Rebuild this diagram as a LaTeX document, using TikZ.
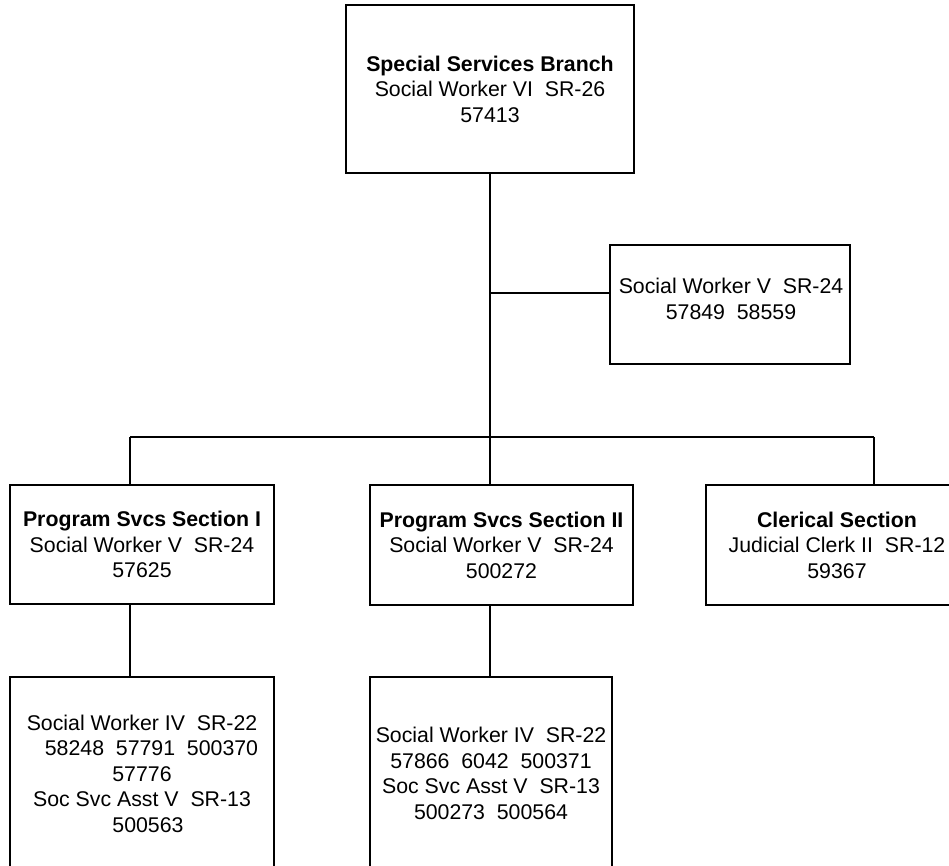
\documentclass[tikz,border=0pt]{standalone}
\usepackage{fontspec}
\setmainfont{Liberation Sans}
\begin{document}
\begin{tikzpicture}[x=1pt,y=-1pt,
  box/.style={draw, line width=1.8pt, inner sep=0pt, outer sep=0pt, align=center,
    font=\fontsize{21.3}{25.5}\selectfont},
  txt/.style={inner sep=0pt, outer sep=0pt, align=center,
    font=\fontsize{21.3}{25.5}\selectfont},
  conn/.style={line width=1.8pt}]
\useasboundingbox (0,0) rectangle (949,866);
\fill[white] (0,0) rectangle (949,866);
\clip (0,0) rectangle (949,866);
% boxes
\node[box, minimum width=288pt, minimum height=168pt] (top) at (490,89)
  {\textbf{Special Services Branch}\\Social Worker VI~~SR-26\\57413};
\node[box, minimum width=240pt, minimum height=119pt] (rbox) at (730,304.5) {};
\node[txt] (rboxtext) at (731,299) {Social Worker V~~SR-24\\57849~~58559};
\node[box, minimum width=264pt, minimum height=119pt] (p1) at (142,544.5)
  {\textbf{Program Svcs Section I}\\Social Worker V~~SR-24\\57625};
\node[box, minimum width=263pt, minimum height=120pt] (p2) at (501.5,545)
  {\textbf{Program Svcs Section II}\\Social Worker V~~SR-24\\500272};
\node[box, minimum width=262pt, minimum height=120pt] (p3) at (837,545)
  {\textbf{Clerical Section}\\Judicial Clerk II~~SR-12\\59367};
\node[box, minimum width=264pt, minimum height=193pt] (s1) at (142,773.5)
  {Social Worker IV~~SR-22\\\hspace*{19pt}58248~~57791~~500370\\57776\\Soc Svc Asst V~~SR-13\\\hspace*{12pt}500563};
\node[box, minimum width=242pt, minimum height=193pt] (s2) at (491,773.5)
  {Social Worker IV~~SR-22\\57866~~6042~~500371\\Soc Svc Asst V~~SR-13\\500273~~500564};
% connector points
\coordinate (bA) at (130,437);
\coordinate (bB) at (490,437);
\coordinate (bC) at (874,437);
\coordinate (j) at (490,293);
% connectors
\draw[conn] (top.south) -- (bB);
\draw[conn] (j) -- (j -| rbox.west);
\draw[conn] (bA) -- (bC);
\draw[conn] (bA) -- (bA |- p1.north);
\draw[conn] (bB) -- (bB |- p2.north);
\draw[conn] (bC) -- (bC |- p3.north);
\draw[conn] (bA |- p1.south) -- (bA |- s1.north);
\draw[conn] (bB |- p2.south) -- (bB |- s2.north);
\end{tikzpicture}
\end{document}
